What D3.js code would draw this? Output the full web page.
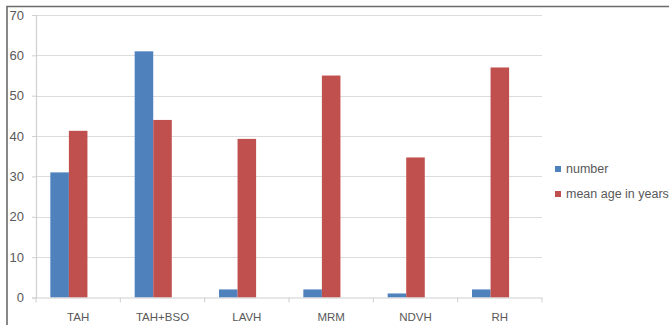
<!DOCTYPE html>
<html>
<head>
<meta charset="utf-8">
<script src="https://cdn.jsdelivr.net/npm/d3@7"></script>
<style>
  html, body { margin: 0; padding: 0; background: #fff; }
  svg { display: block; font-family: "Liberation Sans", "DejaVu Sans", sans-serif; }
</style>
</head>
<body>
<svg id="chart" width="669" height="325"></svg>
<script>
// Procedures and their counts / mean patient age
const categories = ["TAH", "TAH+BSO", "LAVH", "MRM", "NDVH", "RH"];
const seriesNames = ["number", "mean age in years"];
const numberValues = [31, 61, 2, 2, 1, 2];
const meanAgeValues = [41.3, 44, 39.3, 55, 34.7, 57];
const yTicks = [0, 10, 20, 30, 40, 50, 60, 70];
const colors = ["#4f81bd", "#c0504d"];

const svg = d3.select("#chart");
const W = 669, H = 325;
const plot = { left: 36, right: 542, top: 15, bottom: 297.5 };

// outer frame (top and left edges)
svg.append("path")
  .attr("d", `M7,${H} L7,6.5 L${W},6.5`)
  .attr("fill", "none").attr("stroke", "#6b6b6b").attr("stroke-width", 1.6);

const x = d3.scaleBand().domain(categories).range([plot.left, plot.right]);
const y = d3.scaleLinear().domain([0, 70]).range([plot.bottom, plot.top]);

// bars sit toward the left side of each category slot
const groupOffset = x.bandwidth() * 0.17;
const groupWidth = x.bandwidth() * 0.44;
const inner = d3.scaleBand().domain(seriesNames).range([0, groupWidth]);

// gridlines
svg.append("g").selectAll("line").data(yTicks.filter(d => d > 0)).join("line")
  .attr("x1", plot.left).attr("x2", plot.right)
  .attr("y1", d => Math.round(y(d)) + 0.5).attr("y2", d => Math.round(y(d)) + 0.5)
  .attr("stroke", "#dcdcdc").attr("stroke-width", 1.2);

// y axis
const yAxis = svg.append("g").attr("transform", `translate(${plot.left},0)`)
  .call(d3.axisLeft(y).tickValues(yTicks).tickSize(4).tickPadding(8));
yAxis.select(".domain").attr("stroke", "#d0d0d0").attr("stroke-width", 1.2);
yAxis.selectAll(".tick line").attr("stroke", "#d0d0d0");
yAxis.selectAll("text").attr("fill", "#595959").attr("font-size", 13);

// bars
const rows = categories.map((c, i) => ({ cat: c, vals: [numberValues[i], meanAgeValues[i]] }));
svg.append("g").selectAll("g").data(rows).join("g")
  .attr("transform", d => `translate(${x(d.cat) + groupOffset},0)`)
  .selectAll("rect").data(d => d.vals.map((v, k) => ({ k, v }))).join("rect")
  .attr("x", d => inner(seriesNames[d.k]))
  .attr("width", inner.bandwidth())
  .attr("y", d => y(d.v))
  .attr("height", d => y(0) - y(d.v))
  .attr("fill", d => colors[d.k]);

// x axis
const xAxis = svg.append("g").attr("transform", `translate(0,${plot.bottom})`)
  .call(d3.axisBottom(x).tickSize(0).tickPadding(15));
xAxis.select(".domain").attr("stroke", "#d0d0d0").attr("stroke-width", 1.2);
xAxis.selectAll("text").attr("fill", "#595959").attr("font-size", 11.5);
// category separators
svg.append("g").selectAll("line")
  .data(categories.map(c => x(c)).concat([plot.right])).join("line")
  .attr("x1", d => d).attr("x2", d => d)
  .attr("y1", plot.bottom).attr("y2", plot.bottom + 5)
  .attr("stroke", "#d0d0d0");

// legend
const legend = svg.append("g").attr("transform", "translate(555,166)");
legend.selectAll("g").data(seriesNames).join("g")
  .attr("transform", (d, i) => `translate(0,${i * 25})`)
  .each(function (d, i) {
    const g = d3.select(this);
    g.append("rect").attr("width", 6).attr("height", 6).attr("fill", colors[i]);
    g.append("text").attr("x", 11).attr("y", 7).attr("fill", "#595959")
      .attr("font-size", 12.5).text(d);
  });
</script>
</body>
</html>
